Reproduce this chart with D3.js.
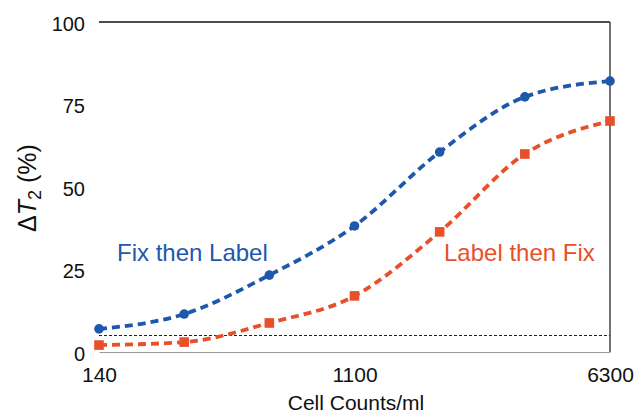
<!DOCTYPE html>
<html>
<head>
<meta charset="utf-8">
<script src="https://cdn.jsdelivr.net/npm/d3@7"></script>
<style>
  body { margin: 0; background: #fff; }
  text { font-family: "Liberation Sans", Arial, sans-serif; }
</style>
</head>
<body>
<div id="chart"></div>
<script>
// categories along x (equally spaced), only some are labelled
let counts = ["140", "c2", "c3", "1100", "c5", "c6", "6300"];
let xTickLabels = ["140", "1100", "6300"];
let yTicks = [0, 25, 50, 75, 100];
let fixThenLabel = [7.0, 11.5, 23.3, 38.2, 60.6, 77.3, 82.1];
let labelThenFix = [2.1, 3.0, 8.8, 17.0, 36.4, 60.0, 70.0];
let threshold = 5;

let margin = {top: 22, right: 25, bottom: 65, left: 99},
    width = 635 - margin.left - margin.right,
    height = 417 - margin.top - margin.bottom;

let svg = d3.select("#chart").append("svg")
    .attr("width", 635)
    .attr("height", 417)
    .append("g")
    .attr("transform", "translate(" + margin.left + "," + margin.top + ")");

let x = d3.scalePoint().domain(counts).range([0, width]);
let y = d3.scaleLinear().domain([0, 100]).range([height, 0]);

// frame: top black, right dark gray, bottom gray
svg.append("line").attr("x1", 0).attr("x2", width).attr("y1", 0).attr("y2", 0)
    .attr("stroke", "#111").attr("stroke-width", 1.5);
svg.append("line").attr("x1", width).attr("x2", width).attr("y1", 0).attr("y2", height)
    .attr("stroke", "#444").attr("stroke-width", 1.5);

let xAxis = svg.append("g")
    .attr("transform", "translate(0," + height + ")")
    .call(d3.axisBottom(x).tickValues(xTickLabels).tickSize(0).tickPadding(15));
xAxis.select(".domain").attr("stroke", "#999").attr("stroke-width", 1.2);
xAxis.selectAll("text").style("font-size", "21px").attr("fill", "#111");

let yAxis = svg.append("g")
    .call(d3.axisLeft(y).tickValues(yTicks).tickSize(0).tickPadding(14));
yAxis.select(".domain").remove();
yAxis.selectAll("text").style("font-size", "20px").attr("fill", "#111")
    .attr("dy", "0.4em");

// threshold line
svg.append("line")
    .attr("x1", 0).attr("x2", width)
    .attr("y1", y(threshold)).attr("y2", y(threshold))
    .attr("stroke", "#222").attr("stroke-width", 1)
    .attr("stroke-dasharray", "3,2");

let line = d3.line()
    .x((d, i) => x(counts[i]))
    .y(d => y(d))
    .curve(d3.curveMonotoneX);

function drawSeries(vals, color, shape) {
    svg.append("path")
        .datum(vals)
        .attr("fill", "none")
        .attr("stroke", color)
        .attr("stroke-width", 3.8)
        .attr("stroke-dasharray", "8,5")
        .attr("d", line);
    if (shape === "circle") {
        svg.selectAll(null).data(vals).join("circle")
            .attr("cx", (d, i) => x(counts[i]))
            .attr("cy", d => y(d))
            .attr("r", 4.8)
            .attr("fill", color);
    } else {
        svg.selectAll(null).data(vals).join("rect")
            .attr("x", (d, i) => x(counts[i]) - 4.8)
            .attr("y", d => y(d) - 4.8)
            .attr("width", 9.6)
            .attr("height", 9.6)
            .attr("fill", color);
    }
}

drawSeries(fixThenLabel, "#1d58ad", "circle");
drawSeries(labelThenFix, "#e8502a", "square");

svg.append("text")
    .attr("x", 117 - margin.left).attr("y", 261 - margin.top)
    .style("font-size", "24px")
    .attr("fill", "#1d58ad")
    .text("Fix then Label");

svg.append("text")
    .attr("x", 444 - margin.left).attr("y", 261 - margin.top)
    .style("font-size", "24px")
    .attr("fill", "#e8502a")
    .text("Label then Fix");

// axis titles
svg.append("text")
    .attr("x", 356 - margin.left)
    .attr("y", 410 - margin.top)
    .attr("text-anchor", "middle")
    .style("font-size", "21px")
    .attr("fill", "#111")
    .text("Cell Counts/ml");

let yl = svg.append("text")
    .attr("transform", "translate(" + (36 - margin.left) + "," + (188 - margin.top) + ") rotate(-90)")
    .attr("text-anchor", "middle")
    .style("font-size", "25px")
    .attr("fill", "#111");
yl.append("tspan").text("\u0394");
yl.append("tspan").style("font-style", "italic").text("T");
yl.append("tspan").attr("dy", "5").style("font-size", "18px").text("2");
yl.append("tspan").attr("dy", "-5").text(" (%)");
</script>
</body>
</html>
